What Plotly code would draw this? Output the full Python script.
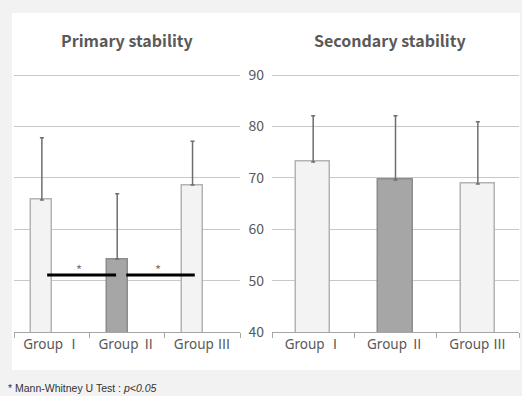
import plotly.graph_objects as go

groups = ["Group Ⅰ", "Group Ⅱ", "Group Ⅲ"]
primary_mean = [65.7, 54.2, 68.6]
primary_err = [12.1, 12.7, 8.5]
secondary_mean = [73.1, 69.6, 68.8]
secondary_err = [9.0, 12.5, 12.1]
y_ticks = [40, 50, 60, 70, 80, 90]
titles = ["Primary stability", "Secondary stability"]
footnote = "* Mann-Whitney U Test : <i>p&lt;0.05</i>"

light = "#f3f3f3"
dark = "#a6a6a6"
fills = [light, dark, light]
edges = ["#b3b3b3", "#8c8c8c", "#b3b3b3"]
grid = "#c8c8c8"
txt = "#595959"
font_lbl = "Noto Sans CJK KR"
font_cat = "Noto Sans, Noto Sans CJK KR"

fig = go.Figure()

fig.add_trace(go.Bar(
    x=groups, y=primary_mean, xaxis="x", yaxis="y",
    width=0.28, offset=-0.27,
    marker=dict(color=fills, line=dict(color=edges, width=1.5)),
    error_y=dict(type="data", array=primary_err, arrayminus=[0, 0, 0], symmetric=False,
                 color="#6e6e6e", thickness=1.5, width=2),
    showlegend=False,
))
fig.add_trace(go.Bar(
    x=groups, y=secondary_mean, xaxis="x2", yaxis="y2",
    width=0.415,
    marker=dict(color=fills, line=dict(color=edges, width=1.5)),
    error_y=dict(type="data", array=secondary_err, arrayminus=[0, 0, 0], symmetric=False,
                 color="#6e6e6e", thickness=1.5, width=2),
    showlegend=False,
))

# significance markers (Group I vs II, Group II vs III)
sig_segments = [(-0.06, 0.855), (0.99, 1.90)]
sig_level = 51.1
shapes = [
    dict(type="rect", xref="paper", yref="paper", x0=12/522, x1=520/522, y0=1-370/396, y1=1-13/396,
         fillcolor="white", line=dict(width=0), layer="below"),
]
for a, b in sig_segments:
    shapes.append(dict(type="line", xref="x", yref="y", x0=a, x1=b, y0=sig_level, y1=sig_level,
                       line=dict(color="black", width=3)))

annotations = []
for a, b in sig_segments:
    annotations.append(dict(x=(a + b) / 2 - 0.04, y=sig_level + 1.0, xref="x", yref="y", text="*",
                            showarrow=False, yanchor="middle", xanchor="center",
                            font=dict(family=font_lbl, size=13, color="#777777")))
annotations.append(dict(x=127/522, y=1-40/396, xref="paper", yref="paper", text=f"<b>{titles[0]}</b>",
                        showarrow=False, xanchor="center", yanchor="middle",
                        font=dict(family=font_lbl, size=16, color=txt)))
annotations.append(dict(x=390/522, y=1-40/396, xref="paper", yref="paper", text=f"<b>{titles[1]}</b>",
                        showarrow=False, xanchor="center", yanchor="middle",
                        font=dict(family=font_lbl, size=16, color=txt)))
annotations.append(dict(x=6/522, y=1-388/396, xref="paper", yref="paper", text=footnote,
                        showarrow=False, xanchor="left", yanchor="middle",
                        font=dict(family="Liberation Sans", size=10.5, color="#333333")))

xcommon = dict(type="category", tickson="boundaries", ticks="outside", ticklen=5, tickcolor="#a6a6a6",
               showline=True, linecolor="#a6a6a6", linewidth=1, showgrid=False, automargin=False,
               tickfont=dict(family=font_cat, size=13.5, color=txt), range=[-0.5, 2.5], fixedrange=True)
ycommon = dict(range=[40, 90.3], tickvals=y_ticks, showgrid=True, gridcolor=grid, gridwidth=1,
               zeroline=False, showline=False, automargin=False, fixedrange=True,
               domain=[1-332/396, 1-73.5/396])

fig.update_layout(
    width=522, height=396,
    margin=dict(l=0, r=0, t=0, b=0, pad=0, autoexpand=False),
    paper_bgcolor="#f2f2f2", plot_bgcolor="white",
    bargap=0,
    xaxis=dict(domain=[14/522, 240/522], anchor="y", **xcommon),
    xaxis2=dict(domain=[272/522, 519/522], anchor="y2", **xcommon),
    yaxis=dict(anchor="x", showticklabels=False, **ycommon),
    yaxis2=dict(anchor="x2", showticklabels=True, ticks="", ticklabelstandoff=7,
                tickfont=dict(family=font_lbl, size=14, color=txt), **ycommon),
    shapes=shapes,
    annotations=annotations,
)

fig.write_html("out.html", config={"displayModeBar": False},
               post_script="document.body.style.margin='0';document.body.style.background='#f2f2f2';")
